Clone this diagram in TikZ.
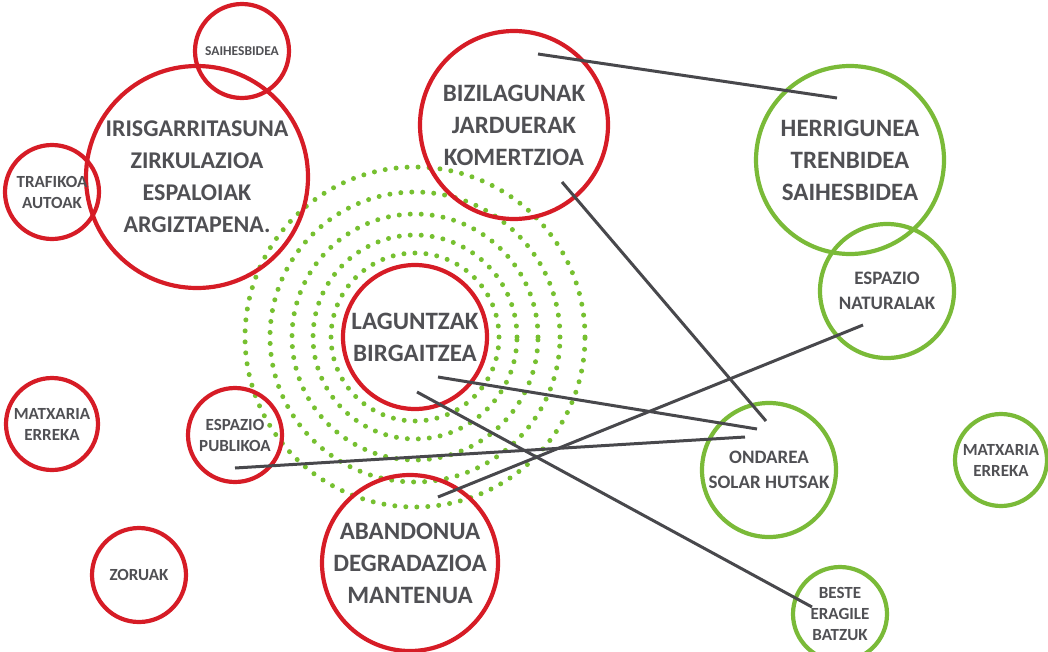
\documentclass[tikz,border=0pt]{standalone}
\usepackage{fontspec}
\usepackage{tikz}
\usetikzlibrary{backgrounds}
\newfontfamily\lblfont{Carlito}
\definecolor{kRed}{RGB}{214,28,38}
\definecolor{kGreen}{RGB}{122,186,56}
\definecolor{kDot}{RGB}{118,192,48}
\definecolor{kGrey}{RGB}{72,72,76}
\definecolor{kText}{RGB}{80,80,84}

\begin{document}
\begin{tikzpicture}[
    x=1pt, y=-1pt,
    font=\lblfont\bfseries, text=kText,
    bubble/.style={circle, draw, line width=4.2pt, inner sep=0pt, align=center},
    redb/.style={bubble, draw=kRed},
    greenb/.style={bubble, draw=kGreen},
    big/.style={font=\lblfont\bfseries\fontsize{25}{32}\selectfont},
    mid/.style={font=\lblfont\bfseries\fontsize{19}{25}\selectfont},
    small/.style={font=\lblfont\bfseries\fontsize{17}{21}\selectfont},
    link/.style={draw=kGrey, line width=3pt},
    ring/.style={draw=kDot, line width=5pt, line cap=round,
                 dash pattern=on 0pt off 11pt}
]
\useasboundingbox (0,0) rectangle (1048,651);
\clip (0,0) rectangle (1048,651);

% Red bubbles
\node[redb, font=\lblfont\bfseries\fontsize{13.5}{16}\selectfont,
      minimum size=94] (saih) at (242,51) {SAIHESBIDEA};
\node[redb, big, font=\lblfont\bfseries\fontsize{24}{32}\selectfont,
      minimum size=222] (iris) at (197,177)
     {IRISGARRITASUNA\\ZIRKULAZIOA\\ESPALOIAK\\ARGIZTAPENA.};
\node[redb, small, minimum size=94] (traf) at (52,192) {TRAFIKOA\\AUTOAK};
\node[redb, big, minimum size=188] (bizi) at (514,125)
     {BIZILAGUNAK\\JARDUERAK\\KOMERTZIOA};
\node[redb, big, minimum size=144] (lag) at (415,337) {LAGUNTZAK\\BIRGAITZEA};
\node[redb, small, minimum size=92] (matxr) at (52,424) {MATXARIA\\ERREKA};
\node[redb, small, minimum size=94] (pub) at (235,435) {ESPAZIO\\PUBLIKOA};
\node[redb, small, minimum size=94] (zor) at (139,575) {ZORUAK};
\node[redb, big, minimum size=176] (aban) at (410,563)
     {ABANDONUA\\DEGRADAZIOA\\MANTENUA};

% Green bubbles
\node[greenb, big, minimum size=188] (herri) at (850,160)
     {HERRIGUNEA\\TRENBIDEA\\SAIHESBIDEA};
\node[greenb, mid, minimum size=134] (nat) at (887,291) {ESPAZIO\\NATURALAK};
\node[greenb, mid, minimum size=134] (ond) at (769,470) {ONDAREA\\SOLAR HUTSAK};
\node[greenb, small, minimum size=92] (matxg) at (1001,460) {MATXARIA\\ERREKA};
\node[greenb, small, minimum size=94] (beste) at (840,614)
     {BESTE\\ERAGILE\\BATZUK};

% Dotted rings round the centre
\begin{scope}[on background layer]
  \foreach \r in {84,102,123,145,170}
    \draw[ring] (lag.center) circle[radius=\r pt];
\end{scope}

% Links
\draw[link] ([shift={(24,-71)}]bizi.center) -- ([shift={(-13,-62)}]herri.center);
\draw[link] ([shift={(48,57)}]bizi.center) -- ([shift={(-3,-49)}]ond.center);
\draw[link] ([shift={(23,40)}]lag.center) -- ([shift={(-12,-41)}]ond.center);
\draw[link] ([shift={(2,55)}]lag.center) -- ([shift={(-28,-7)}]beste.center);
\draw[link] ([shift={(0,33)}]pub.center) -- ([shift={(-24,-33)}]ond.center);
\draw[link] ([shift={(28,-66)}]aban.center) -- ([shift={(-24,34)}]nat.center);
\end{tikzpicture}
\end{document}
